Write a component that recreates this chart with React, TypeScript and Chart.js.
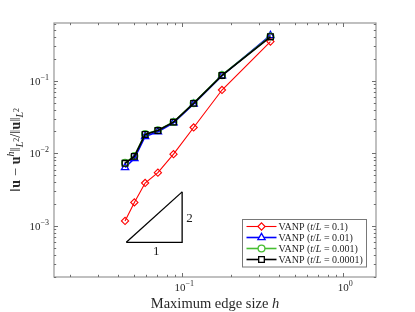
import React, { useEffect, useRef } from "react";
import { Chart, registerables } from "chart.js";
import { drawPoint } from "chart.js/helpers";

Chart.register(...registerables);

// ---- data ----
const edgeSize = [0.0442, 0.0505, 0.0589, 0.0707, 0.0884, 0.1179, 0.1768, 0.3536];
const errT1 = [1.18e-3, 2.12e-3, 3.92e-3, 5.43e-3, 9.75e-3, 0.0227, 0.0744, 0.345];
const errT01 = [6.4e-3, 8.5e-3, 0.0171, 0.0198, 0.0263, 0.0477, 0.117, 0.418];
const errT001 = [7.4e-3, 9.2e-3, 0.0185, 0.0208, 0.027, 0.049, 0.119, 0.405];
const errT0001 = [7.3e-3, 9.1e-3, 0.0182, 0.0206, 0.0269, 0.0487, 0.118, 0.401];
const seriesValues = ["0.1", "0.01", "0.001", "0.0001"];
// slope triangle: legs (run then rise) and hypotenuse
const slopeLegsX = [0.045, 0.1, 0.1];
const slopeLegsY = [6.0e-4, 6.0e-4, 2.96e-3];
const slopeHypX = [0.045, 0.1];
const slopeHypY = [6.0e-4, 2.96e-3];
const xMajorTicks = [0.1, 1];
const xTickExps = ["\u22121", "0"];
const yMajorTicks = [1e-3, 1e-2, 1e-1];
const yTickExps = ["\u22123", "\u22122", "\u22121"];
const X_MIN = 0.016, X_MAX = 1.6, Y_MIN = 2e-4, Y_MAX = 0.62;

const SERIF = "'Liberation Serif', 'DejaVu Serif', serif";
const RED = "rgb(255,0,0)";
const BLUE = "rgb(0,0,255)";
const GREEN = "rgb(70,190,50)";
const BLACK = "rgb(0,0,0)";

type Seg = { t: string; f: string; dy?: number };

function richWidth(ctx: CanvasRenderingContext2D, segs: Seg[]) {
  let w = 0;
  for (const s of segs) { ctx.font = s.f; w += ctx.measureText(s.t).width; }
  return w;
}
function drawRich(ctx: CanvasRenderingContext2D, segs: Seg[], x: number, y: number, align: "left" | "center" | "right") {
  const w = richWidth(ctx, segs);
  let cx = align === "left" ? x : align === "center" ? x - w / 2 : x - w;
  ctx.textAlign = "left";
  ctx.textBaseline = "alphabetic";
  for (const s of segs) {
    ctx.font = s.f;
    ctx.fillText(s.t, cx, y + (s.dy || 0));
    cx += ctx.measureText(s.t).width;
  }
}

const styles = [
  { color: RED, point: "rectRot", r: 3.6, lw: 1.1, pw: 1.1 },
  { color: BLUE, point: "triangle", r: 4.2, lw: 1.6, pw: 1.3 },
  { color: GREEN, point: "circle", r: 3.4, lw: 1.6, pw: 1.3 },
  { color: BLACK, point: "rect", r: 4, lw: 1.6, pw: 1.3 },
];

const overlay = {
  id: "overlay",
  afterDatasetsDraw(chart: any) {
    const ctx = chart.ctx as CanvasRenderingContext2D;
    const { left, right, top, bottom } = chart.chartArea;
    const xs = chart.scales.x, ys = chart.scales.y;
    ctx.save();
    // axes box
    ctx.strokeStyle = "rgb(150,150,150)";
    ctx.lineWidth = 1.2;
    ctx.strokeRect(left, top, right - left, bottom - top);
    // ticks
    ctx.lineWidth = 1;
    ctx.strokeStyle = "rgb(110,110,110)";
    const decadesX = [0.01, 0.1, 1];
    for (const d of decadesX) {
      for (let m = 1; m <= 9; m++) {
        const v = m * d;
        if (v < X_MIN || v > X_MAX) continue;
        const px = Math.round(xs.getPixelForValue(v)) + 0.5;
        const len = m === 1 ? 4 : 2.2;
        ctx.beginPath();
        ctx.moveTo(px, bottom); ctx.lineTo(px, bottom - len);
        ctx.moveTo(px, top); ctx.lineTo(px, top + len);
        ctx.stroke();
      }
    }
    const decadesY = [1e-4, 1e-3, 1e-2, 1e-1];
    for (const d of decadesY) {
      for (let m = 1; m <= 9; m++) {
        const v = m * d;
        if (v < Y_MIN || v > Y_MAX) continue;
        const py = Math.round(ys.getPixelForValue(v)) + 0.5;
        const len = m === 1 ? 4 : 2.2;
        ctx.beginPath();
        ctx.moveTo(left, py); ctx.lineTo(left + len, py);
        ctx.moveTo(right, py); ctx.lineTo(right - len, py);
        ctx.stroke();
      }
    }
    // tick labels
    ctx.fillStyle = "rgb(40,40,40)";
    xMajorTicks.forEach((v, i) => {
      const px = xs.getPixelForValue(v);
      drawRich(ctx, [
        { t: "10", f: `11px ${SERIF}` },
        { t: xTickExps[i], f: `8px ${SERIF}`, dy: -5 },
      ], px + 2, bottom + 14, "center");
    });
    yMajorTicks.forEach((v, i) => {
      const py = ys.getPixelForValue(v);
      drawRich(ctx, [
        { t: "10", f: `11px ${SERIF}` },
        { t: yTickExps[i], f: `8px ${SERIF}`, dy: -5 },
      ], left - 5, py + 4, "right");
    });
    // x title
    ctx.fillStyle = "rgb(40,40,40)";
    drawRich(ctx, [
      { t: "Maximum edge size ", f: `14.5px ${SERIF}` },
      { t: "h", f: `italic 14.5px ${SERIF}` },
    ], (left + right) / 2, bottom + 31, "center");
    // y title
    ctx.save();
    ctx.translate(15, (top + bottom) / 2);
    ctx.rotate(-Math.PI / 2);
    const n = `14.5px ${SERIF}`, b = `bold 14.5px ${SERIF}`, si = `italic 10px ${SERIF}`, s2 = `8px ${SERIF}`;
    drawRich(ctx, [
      { t: "\u2016", f: n }, { t: "u", f: b }, { t: " \u2212 ", f: n }, { t: "u", f: b },
      { t: "h", f: si, dy: -6 }, { t: "\u2016", f: n },
      { t: "L", f: si, dy: 3 }, { t: "2", f: s2, dy: -1 },
      { t: "/\u2016", f: n }, { t: "u", f: b }, { t: "\u2016", f: n },
      { t: "L", f: si, dy: 3 }, { t: "2", f: s2, dy: -1 },
    ], 0, 5, "center");
    ctx.restore();
    // slope triangle labels
    ctx.fillStyle = "rgb(30,30,30)";
    const tx = xs.getPixelForValue(Math.sqrt(slopeHypX[0] * slopeHypX[1]));
    const tyB = ys.getPixelForValue(slopeLegsY[0]);
    drawRich(ctx, [{ t: "1", f: `13px ${SERIF}` }], tx + 2, tyB + 13, "center");
    const rx = xs.getPixelForValue(slopeLegsX[1]);
    const ymid = (ys.getPixelForValue(slopeLegsY[1]) + ys.getPixelForValue(slopeLegsY[2])) / 2;
    drawRich(ctx, [{ t: "2", f: `13px ${SERIF}` }], rx + 4, ymid + 5, "left");
    // legend
    const lx = 242.5, ly = 219.5, lw = 124, lh = 47.5;
    ctx.fillStyle = "#fff";
    ctx.fillRect(lx, ly, lw, lh);
    ctx.strokeStyle = "rgb(120,120,120)";
    ctx.lineWidth = 1;
    ctx.strokeRect(lx, ly, lw, lh);
    styles.forEach((s, i) => {
      const y = ly + 7 + i * 11;
      ctx.strokeStyle = s.color;
      ctx.lineWidth = s.lw;
      ctx.beginPath();
      ctx.moveTo(lx + 4, y); ctx.lineTo(lx + 34, y);
      ctx.stroke();
      ctx.lineWidth = s.pw;
      ctx.fillStyle = "#fff";
      drawPoint(ctx, { pointStyle: s.point as any, radius: s.r, rotation: 0, borderWidth: s.pw }, lx + 19, y);
      ctx.fillStyle = "rgb(30,30,30)";
      const f = `10px ${SERIF}`, fi = `italic 10px ${SERIF}`;
      drawRich(ctx, [
        { t: "VANP (", f }, { t: "t", f: fi }, { t: "/", f }, { t: "L", f: fi },
        { t: " = " + seriesValues[i] + ")", f },
      ], lx + 36, y + 3.5, "left");
    });
    ctx.restore();
  },
};

export default function App() {
  const ref = useRef<HTMLCanvasElement>(null);
  useEffect(() => {
    if (!ref.current) return;
    const series = [errT1, errT01, errT001, errT0001];
    const datasets: any[] = series.map((vals, i) => ({
      data: edgeSize.map((h, j) => ({ x: h, y: vals[j] })),
      order: 4 - i,
      borderColor: styles[i].color,
      borderWidth: styles[i].lw,
      pointStyle: styles[i].point,
      pointRadius: styles[i].r,
      pointBorderWidth: styles[i].pw,
      pointBorderColor: styles[i].color,
      pointBackgroundColor: "rgba(0,0,0,0)",
      fill: false,
      tension: 0,
    }));
    datasets.push({
      data: slopeLegsX.map((x, j) => ({ x, y: slopeLegsY[j] })),
      order: 10,
      borderColor: "rgb(0,0,0)",
      borderWidth: 1.3,
      pointRadius: 0,
      fill: false,
      tension: 0,
    });
    datasets.push({
      data: slopeHypX.map((x, j) => ({ x, y: slopeHypY[j] })),
      order: 10,
      borderColor: "rgb(0,0,0)",
      borderWidth: 1.3,
      pointRadius: 0,
      fill: false,
      tension: 0,
    });
    const chart = new Chart(ref.current, {
      type: "line",
      data: { datasets },
      options: {
        responsive: false,
        animation: false,
        devicePixelRatio: 1,
        layout: { padding: { left: 54, right: 39, top: 23, bottom: 35 } },
        plugins: { legend: { display: false }, tooltip: { enabled: false } },
        scales: {
          x: { type: "logarithmic", min: X_MIN, max: X_MAX, display: false },
          y: { type: "logarithmic", min: Y_MIN, max: Y_MAX, display: false },
        },
      },
      plugins: [overlay],
    });
    return () => chart.destroy();
  }, []);
  return (
    <div style={{ position: "fixed", left: 0, top: 0, width: 415, height: 312, background: "#fff" }}>
      <canvas ref={ref} width={415} height={312} />
    </div>
  );
}
